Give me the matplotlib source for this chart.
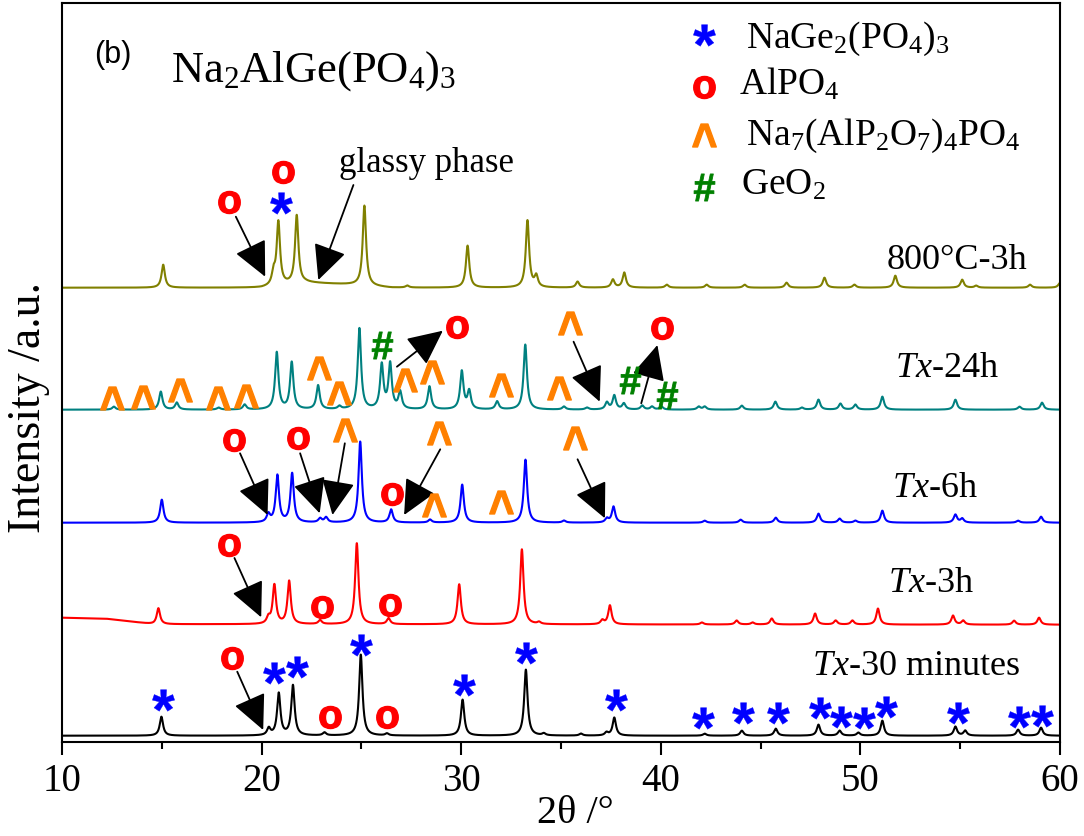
#XRD patterns of Na2AlGe(PO4)3 glass-ceramics after different heat treatments, with phase marks.
import numpy as np
import matplotlib.pyplot as plt
from matplotlib.textpath import TextPath
from matplotlib.font_manager import FontProperties
from matplotlib.path import Path
from matplotlib.ticker import MultipleLocator

plt.rcParams['font.family'] = 'Liberation Serif'
plt.rcParams['mathtext.fontset'] = 'custom'
plt.rcParams['mathtext.rm'] = 'Liberation Serif'
plt.rcParams['mathtext.it'] = 'Liberation Serif:italic'

#trace labels, colours and vertical offsets (y axis is in arbitrary units)
labels = ["$\\mathit{Tx}$-30 minutes", "$\\mathit{Tx}$-3h", "$\\mathit{Tx}$-6h", "$\\mathit{Tx}$-24h", "800°C-3h"]
colors = ["black", "#ff0000", "#0000ff", "#008080", "#808000"]
offsets = [6, 117, 219, 332, 454]

#peak positions (2theta) and heights
pos_30min = [14.98, 20.36, 20.86, 21.57, 23.15, 24.97, 26.28, 30.07, 33.24, 34.14, 36.0, 37.28, 37.67,
             42.2, 44.06, 45.76, 47.9, 48.96, 49.9, 51.1, 54.76, 55.25, 57.9, 59.05]
h_30min = [19, 7, 42, 50, 3, 81, 2, 36, 66, 2, 2, 3, 18, 2, 5, 7, 11, 5, 3, 15, 9, 5, 6, 8]

pos_3h = [14.83, 20.34, 20.64, 21.38, 22.93, 24.77, 26.36, 29.9, 33.04, 33.9, 37.07, 37.45, 42.06,
          43.8, 44.6, 45.56, 47.73, 48.76, 49.6, 50.88, 54.64, 55.15, 57.7, 58.95]
h_3h = [16, 6, 39, 43, 4, 81, 6, 40, 75, 2, 4, 19, 2, 4, 2, 6, 11, 4, 4, 16, 9, 4, 4, 7]

pos_6h = [15.0, 20.34, 20.79, 21.53, 22.93, 23.23, 24.94, 26.49, 28.44, 30.05, 33.22, 35.15, 37.3,
          37.63, 42.2, 44.0, 45.76, 47.9, 48.96, 49.75, 51.1, 54.76, 55.1, 57.9, 59.05]
h_6h = [23, 8, 47, 49, 4, 5, 81, 13, 3, 38, 63, 2, 4, 16, 2, 3, 5, 9, 4, 2, 12, 8, 4, 2, 6]

pos_24h = [12.6, 14.95, 15.75, 17.85, 19.15, 20.76, 21.51, 22.83, 23.9, 24.9, 26.02, 26.44, 26.94,
           28.41, 30.03, 30.4, 31.8, 33.21, 35.15, 36.3, 37.3, 37.67, 38.15, 39.07, 39.56, 40.03,
           41.9, 42.2, 44.06, 45.74, 47.07, 47.9, 49.0, 49.75, 51.1, 54.76, 57.97, 59.1]
h_24h = [3, 18, 7, 2, 5, 57, 47, 24, 3, 81, 44, 45, 17, 23, 38, 18, 8, 65, 3, 2, 7, 14, 6, 4, 3, 3,
         3, 3, 4, 8, 2, 10, 6, 5, 13, 10, 3, 7]

pos_800 = [15.07, 20.6, 20.84, 21.76, 25.15, 27.3, 30.32, 33.32, 33.76, 35.83, 37.6, 38.17, 40.3,
           42.3, 44.2, 46.3, 48.2, 49.7, 51.75, 55.1, 55.8, 58.5, 60.0]
h_800 = [23, 12, 63, 68, 80, 2, 42, 67, 11, 6, 8, 15, 3, 3, 3, 5, 10, 3, 12, 8, 2, 3, 5]

#broad background features (amorphous hump of Tx-3h, glassy phase of 800C)
bg_3h_x = [10, 12.2, 13.5, 14.6, 60]
bg_3h_y = [7, 6, 3, 0.5, 0]
bg_800_x = [10, 20, 22.2, 24.5, 26.5, 60]
bg_800_y = [0, 0, 5, 3, 0, 0]

#phase marks: (2theta, y)
star_x = [15.08, 20.62, 21.76, 24.98, 30.12, 33.26, 37.74, 42.1, 44.1, 45.85, 47.98, 49.05, 50.17,
          51.3, 54.87, 57.97, 59.1, 20.98]
star_y = [41.7, 68.4, 75, 97, 56.7, 88.4, 41.7, 23.4, 29, 29, 33.4, 25, 23.4, 35, 29, 24.4, 25.7, 538.4]
circ_x = [18.53, 23.43, 26.29, 18.37, 23.05, 26.45, 18.62, 21.84, 26.52, 29.78, 40.06, 18.37, 21.07]
circ_y = [83.4, 25, 25, 196.7, 135, 136.7, 301.7, 303.4, 247.7, 415, 413.4, 540, 570]
caret_x = [24.17, 28.87, 28.63, 31.99, 35.68, 12.53, 14.05, 15.93, 17.81, 19.2, 22.9, 23.9, 27.2,
           28.53, 31.99, 34.88, 35.46]
caret_y = [311.7, 308.4, 236.7, 240, 303.4, 343.4, 345, 351.7, 343.4, 345.7, 373.4, 348.4, 361.7,
           370, 356.7, 353.4, 418.4]
hash_x = [26.02, 38.47, 40.33]
hash_y = [396.7, 361.7, 346.7]

#arrows: tail (x0, y0) -> head (x1, y1)
arrows = [(18.78, 70, 20.08, 11.7),
          (18.64, 183.7, 19.98, 124.4),
          (18.92, 288.4, 20.3, 226.7), (21.93, 288.4, 22.91, 228.4), (24.17, 298.4, 23.55, 226.7),
          (28.95, 292.4, 27.14, 226.7), (35.83, 282.4, 37.2, 223.4),
          (26.78, 375, 29.08, 411), (35.63, 400, 36.94, 340), (39.02, 338.4, 39.83, 396.7),
          (18.71, 525, 20.18, 465), (24.6, 556.7, 22.84, 461.7)]

legend_names = ["NaGe$_2$(PO$_4$)$_3$", "AlPO$_4$", "Na$_7$(AlP$_2$O$_7$)$_4$PO$_4$", "GeO$_2$"]


def glyph_marker(ch, ystretch=1.0):
    #bold sans glyph turned into a centred marker path
    tp = TextPath((0, 0), ch, size=10, prop=FontProperties(family='Liberation Sans', weight='bold'))
    v = tp.vertices.copy()
    codes = tp.codes
    ink = codes != Path.CLOSEPOLY
    cx = (v[ink, 0].min() + v[ink, 0].max()) / 2
    cy = (v[ink, 1].min() + v[ink, 1].max()) / 2
    v[:, 0] -= cx
    v[:, 1] = (v[:, 1] - cy) * ystretch
    #closepoly vertices are ignored when drawing, keep them inside the glyph
    for k in np.where(~ink)[0]:
        v[k] = v[k - 1]
    return Path(v, codes)


#symbol, colour, size, vertical stretch, edge width
marks = [('*', '#0000ff', 16, 1.0, 0.3),
         ('o', '#ff0000', 16, 1.0, 0.9),
         ('^', '#ff8000', 17, 1.2, 1.0),
         ('#', '#008000', 19.5, 1.0, 0.6)]


def pattern(x, pos, h, w=0.1):
    y = np.zeros_like(x)
    for p, a in zip(pos, h):
        y += a / (1 + ((x - p) / w) ** 2)
    return y


fig = plt.figure(figsize=(10.84, 8.36), dpi=100)
ax = fig.add_axes([62/1084, 94.3/836, 998/1084, 738.4/836])

x = np.arange(10, 60.0001, 0.005)
all_pos = [pos_30min, pos_3h, pos_6h, pos_24h, pos_800]
all_h = [h_30min, h_3h, h_6h, h_24h, h_800]
for i in range(5):
    y = offsets[i] + pattern(x, all_pos[i], all_h[i])
    if i == 1:
        y += np.interp(x, bg_3h_x, bg_3h_y)
    if i == 4:
        y += np.interp(x, bg_800_x, bg_800_y)
    ax.plot(x, y, color=colors[i], lw=1.5)

#trace labels
label_x = [47.6, 51.36, 51.6, 51.73, 51.33]
label_y = [66.7, 149.7, 244.7, 364.7, 472.7]
for i in range(5):
    ax.text(label_x[i], label_y[i], labels[i], fontsize=26, ha='left', va='baseline')

for (x0, y0, x1, y1) in arrows:
    ax.annotate("", xy=(x1, y1), xytext=(x0, y0),
                arrowprops=dict(arrowstyle='-|>,head_length=0.42,head_width=0.2', color='black',
                                lw=1.3, mutation_scale=52, shrinkA=0, shrinkB=0))

all_mx = [star_x, circ_x, caret_x, hash_x]
all_my = [star_y, circ_y, caret_y, hash_y]
for (ch, c, ms, st, ew), mx, my in zip(marks, all_mx, all_my):
    ax.plot(mx, my, ls='none', marker=glyph_marker(ch, st), ms=ms, mfc=c, mec=c, mew=ew, zorder=5)

#legend drawn by hand, as in the original
leg_sym_y = [706.7, 654.7, 606.7, 554.7]
leg_txt_x = [44.27, 43.92, 44.27, 44.02]
leg_txt_y = [693.7, 646.7, 596.7, 546.7]
for i, (ch, c, ms, st, ew) in enumerate(marks):
    ax.plot([42.16], [leg_sym_y[i]], ls='none', marker=glyph_marker(ch, st), ms=ms, mfc=c, mec=c, mew=ew)
    ax.text(leg_txt_x[i], leg_txt_y[i], legend_names[i], fontsize=27, ha='left', va='baseline')

ax.text(11.63, 678.7, "(b)", fontsize=22, family='Liberation Sans', ha='left', va='baseline')
ax.text(15.48, 659.7, "Na$_2$AlGe(PO$_4$)$_3$", fontsize=32, ha='left', va='baseline')
ax.text(23.88, 569.7, "glassy phase", fontsize=25, ha='left', va='baseline')

ax.set_xlim(10, 60)
ax.set_ylim(0, 738.4)
ax.set_yticks([])
ax.xaxis.set_major_locator(MultipleLocator(10))
ax.xaxis.set_minor_locator(MultipleLocator(5))
ax.tick_params(axis='x', which='major', direction='out', length=9.5, width=1.5, labelsize=28, pad=6)
ax.tick_params(axis='x', which='minor', direction='out', length=5, width=1.5)
for sp in ax.spines.values():
    sp.set_linewidth(1.5)

ax.set_xlabel("2θ /°", fontsize=29)
ax.xaxis.set_label_coords(0.514, -0.072)
ax.set_ylabel("Intensity /a.u.", fontsize=33)
ax.yaxis.set_label_coords(-0.012, 0.453)

fig.savefig("out.png", dpi=100)
